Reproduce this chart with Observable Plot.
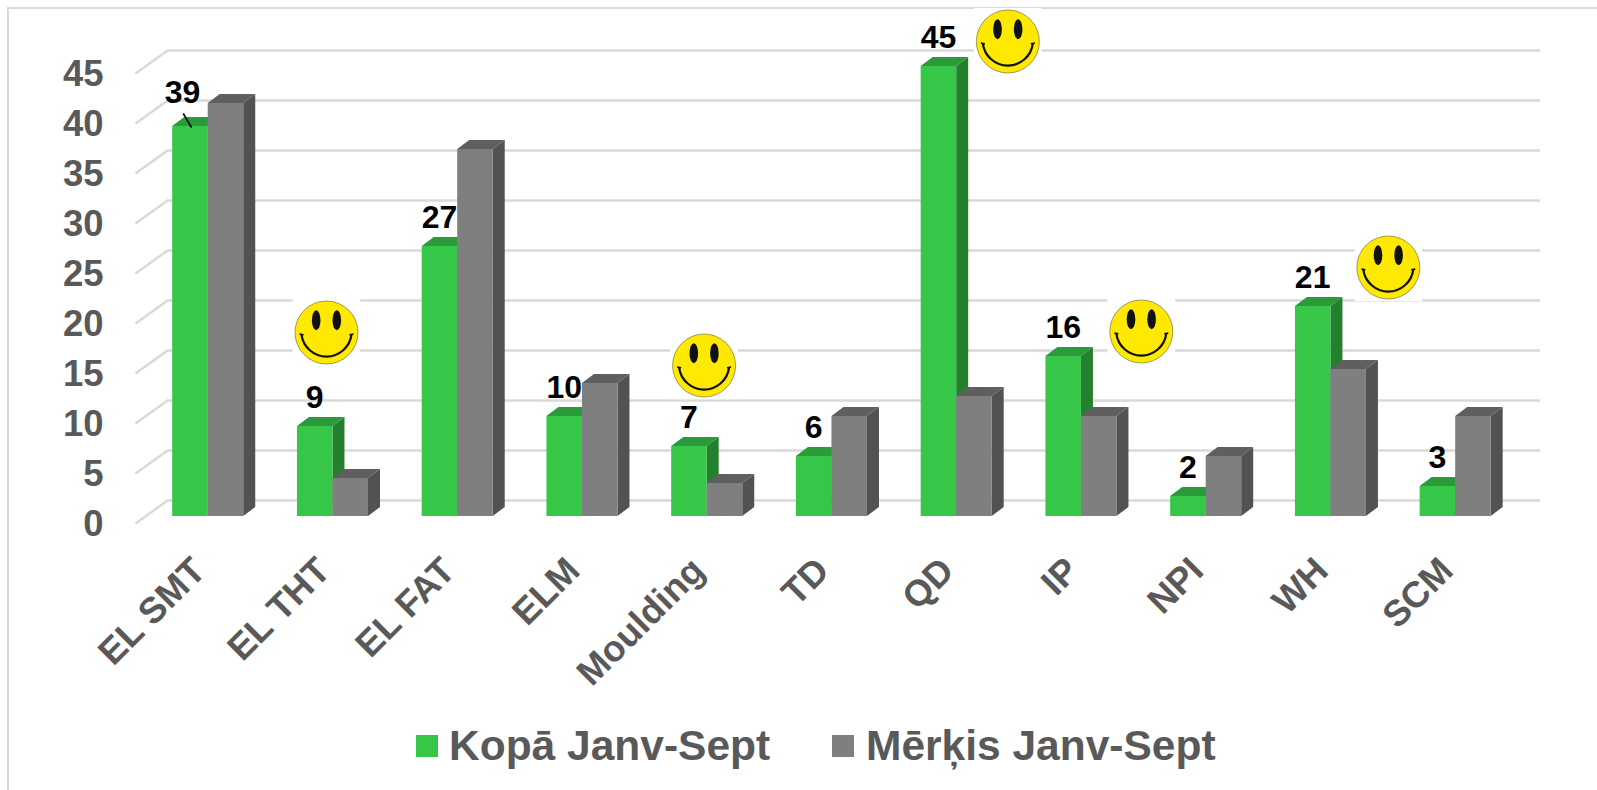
<!DOCTYPE html>
<html lang="lv">
<head>
<meta charset="utf-8">
<script src="https://cdn.jsdelivr.net/npm/d3@7"></script>
<script src="https://cdn.jsdelivr.net/npm/@observablehq/plot@0.6"></script>
<style>
  html, body { margin: 0; padding: 0; background: #fff; }
  #page { position: relative; width: 1597px; height: 790px; overflow: hidden; font-family: "Liberation Sans", Arial, sans-serif; }
  #edge { position: absolute; left: 7px; top: 7px; right: 0; bottom: 0; border-left: 2px solid #d9d9d9; border-top: 2px solid #d9d9d9; }
  #chart { position: absolute; left: 0; top: 0; }
  #chart svg { background: transparent; overflow: visible; }
  .sw { position: absolute; top: 735px; width: 22px; height: 22px; }
  .lt { position: absolute; top: 721px; line-height: 50px; font-size: 42.5px; font-weight: 700; color: #595959; white-space: nowrap; }
</style>
</head>
<body>
<div id="page">
  <div id="edge"></div>
  <div id="chart"></div>
  <div id="legend"></div>
</div>
<script>
const categories = ["EL SMT", "EL THT", "EL FAT", "ELM", "Moulding", "TD", "QD", "IP", "NPI", "WH", "SCM"];
const actual = [39, 9, 27, 10, 7, 6, 45, 16, 2, 21, 3];
const target = [41.3, 3.8, 36.7, 13.3, 3.3, 10, 12, 10, 6, 14.7, 10];
const yTicks = [0, 5, 10, 15, 20, 25, 30, 35, 40, 45];
const seriesNames = ["Kopā Janv-Sept", "Mērķis Janv-Sept"];
const smileyCategories = ["EL THT", "Moulding", "QD", "IP", "WH"];

// Layout and styling
const green = {front: "#37c748", top: "#2b9a38", side: "#247f2e"};
const grey = {front: "#7f7f7f", top: "#5f5f5f", side: "#525252"};
const ink = "#595959";
const barW = 0.2847;
const depthX = 12, depthY = 9;
const wallLeft = -0.326, wallRight = 10.68, floorLeft = -0.583;
const wallUp = 1.6, floorDown = 0.7;
const smileyOffset = {
  "EL THT": [-0.052, 18.4],
  "Moulding": [-0.025, 15.1],
  "QD": [0.41, 47.5],
  "IP": [0.48, 18.5],
  "WH": [0.46, 24.9]
};

const rows = categories.map((c, i) => ({c, i, actual: actual[i], target: target[i]}));

const smileySvg = `<svg xmlns="http://www.w3.org/2000/svg" viewBox="-34 -34 68 68" width="68" height="68">
<rect x="-34" y="-34" width="68" height="68" fill="#fff"/>
<circle r="31.5" fill="#ffe900" stroke="#8c8038" stroke-width="0.8"/>
<ellipse cx="-10.3" cy="-12.3" rx="4.3" ry="10" fill="#111"/>
<ellipse cx="10.3" cy="-12.3" rx="4.3" ry="10" fill="#111"/>
<path d="M-25 2A25.2 25.2 0 0 0 25 2" fill="none" stroke="#111" stroke-width="2.2"/>
<path d="M-27 1.5L-23 2.4M27 1.5L23 2.4" fill="none" stroke="#111" stroke-width="1.6"/>
</svg>`;
const smileySrc = "data:image/svg+xml;charset=utf-8," + encodeURIComponent(smileySvg);

// A bar with pseudo-3D top and side faces, all taken from the plot's scaled channels.
function bar3d(data, value, x1, x2, col) {
  return Plot.rectY(data, {
    x1, x2, y1: 0, y2: value, fill: col.front, inset: 0,
    render(index, scales, values, dims, ctx, next) {
      const g = next(index, scales, values, dims, ctx);
      const X1 = values.x1, X2 = values.x2, Y1 = values.y1, Y2 = values.y2;
      const sel = d3.select(g);
      const faces = sel.insert("g", ":first-child");
      for (const i of index) {
        faces.append("polygon").attr("fill", col.side).attr("points", [
          [X2[i], Y2[i]], [X2[i] + depthX, Y2[i] - depthY], [X2[i] + depthX, Y1[i] - depthY], [X2[i], Y1[i]]
        ].join(" "));
        faces.append("polygon").attr("fill", col.top).attr("points", [
          [X1[i], Y2[i]], [X1[i] + depthX, Y2[i] - depthY], [X2[i] + depthX, Y2[i] - depthY], [X2[i], Y2[i]]
        ].join(" "));
      }
      return g;
    }
  });
}

const labelStyle = {fontSize: 32, fontWeight: 700, fill: "#000", fontFamily: "Liberation Sans"};
const grid = {stroke: "#d9d9d9", strokeWidth: 2.4};

const chart = Plot.plot({
  width: 1597,
  height: 725,
  marginTop: 66,
  marginBottom: 209,
  marginLeft: 135,
  marginRight: 57,
  style: {fontFamily: "Liberation Sans", background: "transparent"},
  x: {type: "linear", domain: [floorLeft, wallRight], axis: null},
  y: {domain: [0, 45], axis: null},
  marks: [
    Plot.ruleY(yTicks, {y: d => d + wallUp, x1: wallLeft, x2: wallRight, ...grid}),
    Plot.link(yTicks, {x1: floorLeft, x2: wallLeft, y1: d => d - floorDown, y2: d => d + wallUp, ...grid}),
    bar3d(rows, "actual", d => d.i - barW, d => d.i, green),
    bar3d(rows, "target", d => d.i, d => d.i + barW, grey),
    Plot.axisY({
      ticks: yTicks, tickSize: 0, tickPadding: 32, dy: 7.5, label: null,
      fontSize: 36.5, fontWeight: 700, color: ink, fill: ink, anchor: "left"
    }),
    Plot.axisX({
      ticks: categories.map((c, i) => i), tickFormat: i => categories[i],
      tickSize: 0, tickPadding: 0, tickRotate: -45, dx: -9, dy: 48, label: null,
      fontSize: 36.5, fontWeight: 700, color: ink, fill: ink, anchor: "bottom"
    }),
    Plot.text(rows.filter(d => d.i > 0), {
      x: d => d.i - barW / 2, y: "actual", text: d => String(d.actual), dx: -0.5, dy: -29, ...labelStyle
    }),
    Plot.text(rows.filter(d => d.i === 0), {
      x: d => d.i - barW / 2, y: "actual", text: d => String(d.actual), dy: -34, dx: -8, ...labelStyle
    }),
    Plot.link(rows.filter(d => d.i === 0), {
      x1: d => d.i - 0.2, x2: d => d.i - 0.134, y1: d => d.actual + 1.3, y2: d => d.actual - 0.1,
      stroke: "#000", strokeWidth: 1.6
    }),
    Plot.image(smileyCategories, {
      x: c => categories.indexOf(c) + smileyOffset[c][0],
      y: c => smileyOffset[c][1],
      src: smileySrc, width: 68, height: 68
    })
  ]
});
document.getElementById("chart").appendChild(chart);

const legend = document.getElementById("legend");
const legendItems = [[415.5, 449, green.front], [832, 866, grey.front]];
seriesNames.forEach((name, k) => {
  const [sx, tx, color] = legendItems[k];
  const sw = document.createElement("div");
  sw.className = "sw"; sw.style.left = sx + "px"; sw.style.background = color;
  const t = document.createElement("div");
  t.className = "lt"; t.style.left = tx + "px"; t.textContent = name;
  legend.append(sw, t);
});
</script>
</body>
</html>
